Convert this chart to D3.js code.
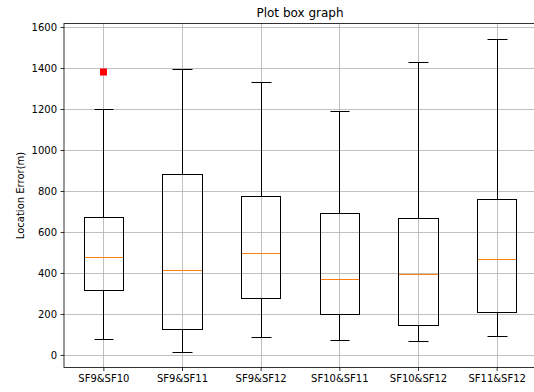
<!DOCTYPE html>
<html>
<head>
<meta charset="utf-8">
<script src="https://cdn.jsdelivr.net/npm/d3@7"></script>
<style>
  html, body { margin: 0; padding: 0; background: #fff; }
  svg { display: block; }
  text { font-family: "DejaVu Sans", sans-serif; fill: #000; }
</style>
</head>
<body>
<svg id="chart" width="534" height="392"></svg>
<script>
// Location error per spreading-factor pair: five-number summaries and fliers
const categories  = ["SF9&SF10", "SF9&SF11", "SF9&SF12", "SF10&SF11", "SF10&SF12", "SF11&SF12"];
const whiskerLow  = [76, 15, 89, 71, 66, 92];
const q1          = [315, 128, 277, 201, 144, 209];
const median      = [477, 415, 495, 370, 397, 469];
const q3          = [675, 881, 777, 694, 667, 760];
const whiskerHigh = [1199, 1394, 1332, 1188, 1429, 1541];
const fliers      = [[1379], [], [], [], [], []];
const yTicks      = [0, 200, 400, 600, 800, 1000, 1200, 1400, 1600];

const svg = d3.select("#chart");
const margin = { left: 64, right: -2, top: 23.5, bottom: 24.5 };
const W = 534, H = 392;
const innerW = W - margin.left - margin.right;
const innerH = H - margin.top - margin.bottom;

// positions 1..n with half-unit padding, as a numeric x scale
const x = d3.scaleLinear().domain([0.5, categories.length + 0.5]).range([0, innerW]);
const allVals = whiskerLow.concat(whiskerHigh, fliers.flat());
const lo = d3.min(allVals), hi = d3.max(allVals), pad = (hi - lo) * 0.05;
const y = d3.scaleLinear().domain([lo - pad, hi + pad]).range([innerH, 0]);

// snap a scaled coordinate to the pixel grid for crisp 1px strokes
const snapY = v => Math.round(y(v) + margin.top) - margin.top + 0.5;
const snapX = v => Math.round(x(v) + margin.left) - margin.left + 0.5;

const g = svg.append("g").attr("transform", `translate(${margin.left},${margin.top})`);

// grid
g.append("g").selectAll("line").data(yTicks).join("line")
  .attr("x1", 0).attr("x2", innerW)
  .attr("y1", d => snapY(d)).attr("y2", d => snapY(d))
  .attr("stroke", "#b0b0b0").attr("stroke-opacity", 0.8).attr("stroke-width", 1);
g.append("g").selectAll("line").data(categories).join("line")
  .attr("x1", (d, i) => snapX(i + 1)).attr("x2", (d, i) => snapX(i + 1))
  .attr("y1", 0).attr("y2", innerH)
  .attr("stroke", "#b0b0b0").attr("stroke-opacity", 0.8).attr("stroke-width", 1);

// boxes
const idx = d3.range(categories.length);
const boxes = g.append("g").selectAll("g").data(idx).join("g");

boxes.append("line").attr("class", "whisker-lo")
  .attr("x1", i => snapX(i + 1)).attr("x2", i => snapX(i + 1))
  .attr("y1", i => snapY(q1[i])).attr("y2", i => snapY(whiskerLow[i]))
  .attr("stroke", "#000").attr("stroke-width", 1);
boxes.append("line").attr("class", "whisker-hi")
  .attr("x1", i => snapX(i + 1)).attr("x2", i => snapX(i + 1))
  .attr("y1", i => snapY(q3[i])).attr("y2", i => snapY(whiskerHigh[i]))
  .attr("stroke", "#000").attr("stroke-width", 1);
boxes.append("line").attr("class", "cap-lo")
  .attr("x1", i => snapX(i + 0.875)).attr("x2", i => snapX(i + 1.125))
  .attr("y1", i => snapY(whiskerLow[i])).attr("y2", i => snapY(whiskerLow[i]))
  .attr("stroke", "#000").attr("stroke-width", 1);
boxes.append("line").attr("class", "cap-hi")
  .attr("x1", i => snapX(i + 0.875)).attr("x2", i => snapX(i + 1.125))
  .attr("y1", i => snapY(whiskerHigh[i])).attr("y2", i => snapY(whiskerHigh[i]))
  .attr("stroke", "#000").attr("stroke-width", 1);
boxes.append("rect")
  .attr("x", i => snapX(i + 0.75)).attr("width", i => snapX(i + 1.25) - snapX(i + 0.75))
  .attr("y", i => snapY(q3[i])).attr("height", i => snapY(q1[i]) - snapY(q3[i]))
  .attr("fill", "none").attr("stroke", "#000").attr("stroke-width", 1);
boxes.append("line").attr("class", "median")
  .attr("x1", i => snapX(i + 0.75) + 0.5).attr("x2", i => snapX(i + 1.25) - 0.5)
  .attr("y1", i => snapY(median[i])).attr("y2", i => snapY(median[i]))
  .attr("stroke", "#ff7f0e").attr("stroke-width", 1);

// fliers as red squares
const flierPts = fliers.flatMap((arr, i) => arr.map(v => ({ i, v })));
g.append("g").selectAll("rect").data(flierPts).join("rect")
  .attr("x", d => Math.round(x(d.i + 1) - 3.5)).attr("y", d => Math.round(y(d.v) - 3.5))
  .attr("width", 7).attr("height", 7).attr("fill", "#ff0000");

// axes
const yAxis = d3.axisLeft(y).tickValues(yTicks).tickSize(3.5).tickPadding(3.5).tickFormat(d3.format("d"));
const xAxis = d3.axisBottom(x).tickValues(idx.map(i => i + 1)).tickSize(3.5).tickPadding(3.5)
  .tickFormat(d => categories[d - 1]);

const ya = g.append("g").call(yAxis);
const xa = g.append("g").attr("transform", `translate(0,${innerH})`).call(xAxis);
[ya, xa].forEach(a => {
  a.select(".domain").remove();
  a.selectAll("text").attr("font-size", 10).attr("font-family", "DejaVu Sans, sans-serif").attr("fill", "#1a1a1a");
  a.selectAll(".tick line").attr("stroke", "#000").attr("stroke-width", 0.8);
});

// spines
g.append("rect").attr("x", 0).attr("y", 0).attr("width", innerW).attr("height", innerH)
  .attr("fill", "none").attr("stroke", "#000").attr("stroke-width", 0.8);

// title and y-label
svg.append("text").attr("x", margin.left + innerW / 2).attr("y", 16.5)
  .attr("text-anchor", "middle").attr("font-size", 12).attr("fill", "#1a1a1a").text("Plot box graph");
svg.append("text")
  .attr("transform", `translate(24,${margin.top + innerH / 2}) rotate(-90)`)
  .attr("text-anchor", "middle").attr("font-size", 10).attr("fill", "#1a1a1a").text("Location Error(m)");
</script>
</body>
</html>
